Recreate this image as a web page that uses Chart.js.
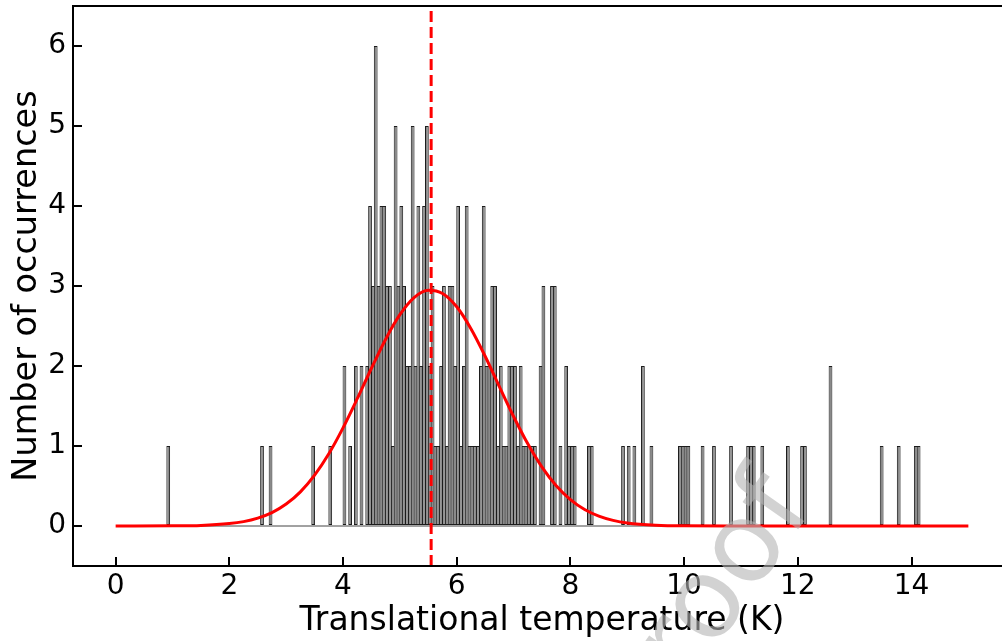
<!DOCTYPE html>
<html>
<head>
<meta charset="utf-8">
<title>Translational temperature histogram</title>
<script src="https://cdn.jsdelivr.net/npm/chart.js@4.4.1/dist/chart.umd.min.js"></script>
<style>
html, body { margin: 0; padding: 0; background: #fff; overflow: hidden; }
#wrap { width: 1012px; height: 641px; }
</style>
</head>
<body>
<div id="wrap"><canvas id="histChart" width="1012" height="641"></canvas></div>
<script>
// histogram bins (centre of each 0.05 K bin) and their counts
const binCenters = [
  0.925, 2.575, 2.725, 3.475, 3.775,
  4.025, 4.125, 4.225, 4.325, 4.425, 4.475, 4.525, 4.575, 4.625, 4.675,
  4.725, 4.775, 4.825, 4.875, 4.925, 4.975, 5.025, 5.075, 5.125, 5.175,
  5.225, 5.275, 5.325, 5.375, 5.425, 5.475, 5.525, 5.575, 5.625, 5.675,
  5.725, 5.775, 5.825, 5.875, 5.925, 5.975, 6.025, 6.075, 6.125, 6.175,
  6.225, 6.275, 6.325, 6.375, 6.425, 6.475, 6.525, 6.575, 6.625, 6.675,
  6.725, 6.775, 6.825, 6.875, 6.925, 6.975, 7.025, 7.075, 7.125, 7.175,
  7.225, 7.275, 7.325, 7.375, 7.475, 7.525, 7.675, 7.725, 7.825, 7.925,
  7.975, 8.025, 8.075, 8.325, 8.375,
  8.925, 9.025, 9.125, 9.275, 9.425, 9.925, 9.975, 10.025, 10.075,
  10.325, 10.525, 10.825, 11.125, 11.175, 11.225, 11.375, 11.825,
  12.075, 12.125, 12.575, 13.475, 13.775, 14.075, 14.125
];
const binCounts = [
  1, 1, 1, 1, 1,
  2, 1, 2, 2, 2, 4, 3, 6, 3, 4,
  4, 3, 3, 1, 5, 3, 4, 3, 2, 2,
  5, 2, 4, 2, 4, 5, 2, 3, 1, 1,
  2, 3, 1, 3, 3, 2, 4, 1, 2, 4,
  1, 1, 1, 1, 2, 4, 2, 2, 3, 3,
  1, 2, 1, 1, 2, 2, 2, 1, 2, 1,
  1, 1, 1, 1, 2, 3, 3, 3, 1, 2,
  1, 1, 1, 1, 1,
  1, 1, 1, 2, 1, 1, 1, 1, 1,
  1, 1, 1, 1, 1, 1, 1, 1,
  1, 1, 2, 1, 1, 1, 1
];

// gaussian fit curve
const fitX = [0, 1, 1.5, 2, 2.25, 2.5, 2.75, 3, 3.25, 3.5, 3.75, 4, 4.25, 4.5, 4.75,
  5, 5.25, 5.5, 5.75, 6, 6.25, 6.5, 6.75, 7, 7.25, 7.5, 7.75, 8, 8.25, 8.5, 8.75,
  9, 9.5, 10, 11, 12, 13, 14, 15];
const fitY = [0, 0.002, 0.007, 0.03, 0.055, 0.099, 0.168, 0.274, 0.427, 0.636, 0.903, 1.227, 1.591, 1.972, 2.335,
  2.641, 2.855, 2.947, 2.907, 2.74, 2.466, 2.122, 1.743, 1.369, 1.027, 0.736, 0.503, 0.33, 0.206, 0.123, 0.07,
  0.038, 0.01, 0.002, 0, 0, 0, 0, 0];

const meanTemp = 5.55;
const histRange = [0.9, 14.2];
const xLimits = [-0.75, 15.75];
const yLimits = [-0.5, 6.5];
const xTicks = [0, 2, 4, 6, 8, 10, 12, 14];
const yTicks = [0, 1, 2, 3, 4, 5, 6];

Chart.defaults.font.family = "'DejaVu Sans', sans-serif";
Chart.defaults.color = '#000';

const framePlugin = {
  id: 'frame',
  afterDatasetsDraw(chart) {
    const {ctx, chartArea: a} = chart;
    ctx.save();
    ctx.strokeStyle = '#000';
    ctx.lineWidth = 2;
    ctx.strokeRect(a.left, a.top, a.right - a.left, a.bottom - a.top);
    ctx.restore();
  }
};

const watermarkPlugin = {
  id: 'watermark',
  afterDraw(chart) {
    const ctx = chart.ctx;
    ctx.save();
    ctx.translate(732, 624);
    ctx.rotate(-55 * Math.PI / 180);
    ctx.font = "112px 'DejaVu Sans'";
    ctx.fillStyle = 'rgba(180,180,180,0.6)';
    ctx.textAlign = 'center';
    ctx.textBaseline = 'alphabetic';
    ctx.fillText('Proof', 0, 0);
    ctx.restore();
  }
};

const ctx = document.getElementById('histChart').getContext('2d');
new Chart(ctx, {
  type: 'bar',
  data: {
    datasets: [
      {
        type: 'line',
        data: [{x: meanTemp, y: yLimits[0]}, {x: meanTemp, y: yLimits[1]}],
        borderColor: '#ff0000',
        borderWidth: 3,
        borderDash: [11, 5],
        pointRadius: 0,
        order: 1
      },
      {
        type: 'line',
        data: fitX.map((x, i) => ({x: x, y: fitY[i]})),
        borderColor: '#ff0000',
        borderWidth: 3,
        cubicInterpolationMode: 'monotone',
        pointRadius: 0,
        order: 2
      },
      {
        type: 'line',
        data: histRange.map(x => ({x: x, y: 0})),
        borderColor: '#444',
        borderWidth: 1,
        pointRadius: 0,
        order: 4
      },
      {
        type: 'bar',
        data: binCenters.map((c, i) => ({x: c, y: binCounts[i]})),
        backgroundColor: '#8a8a8a',
        borderColor: '#1c1c1c',
        borderWidth: 1,
        borderSkipped: false,
        barPercentage: 1.32,
        categoryPercentage: 1,
        order: 3
      }
    ]
  },
  options: {
    responsive: false,
    devicePixelRatio: 1,
    animation: false,
    layout: {padding: {top: 6, right: 1, left: 0, bottom: 0}},
    plugins: {legend: {display: false}, tooltip: {enabled: false}},
    scales: {
      x: {
        type: 'linear',
        min: xLimits[0],
        max: xLimits[1],
        offset: false,
        afterBuildTicks: s => { s.ticks = xTicks.map(v => ({value: v})); },
        afterFit: s => { s.height = 75; s.paddingLeft = 0; s.paddingRight = 0; },
        grid: {offset: false, drawOnChartArea: false, color: '#000', lineWidth: 2, tickLength: -9},
        border: {display: true, color: '#000', width: 2},
        ticks: {font: {size: 28}, padding: 13, maxRotation: 0},
        title: {display: true, text: 'Translational temperature (K)', font: {size: 33}, padding: {top: 0, bottom: 0}}
      },
      y: {
        type: 'linear',
        min: yLimits[0],
        max: yLimits[1],
        afterBuildTicks: s => { s.ticks = yTicks.map(v => ({value: v})); },
        afterFit: s => { s.width = 73; s.paddingTop = 0; s.paddingBottom = 0; },
        grid: {drawOnChartArea: false, color: '#000', lineWidth: 2, tickLength: -9},
        border: {display: true, color: '#000', width: 2},
        ticks: {font: {size: 28}, padding: 16},
        title: {display: true, text: 'Number of occurrences', font: {size: 33.5}, padding: {top: 7, bottom: 0}}
      }
    }
  },
  plugins: [framePlugin, watermarkPlugin]
});
</script>
</body>
</html>
